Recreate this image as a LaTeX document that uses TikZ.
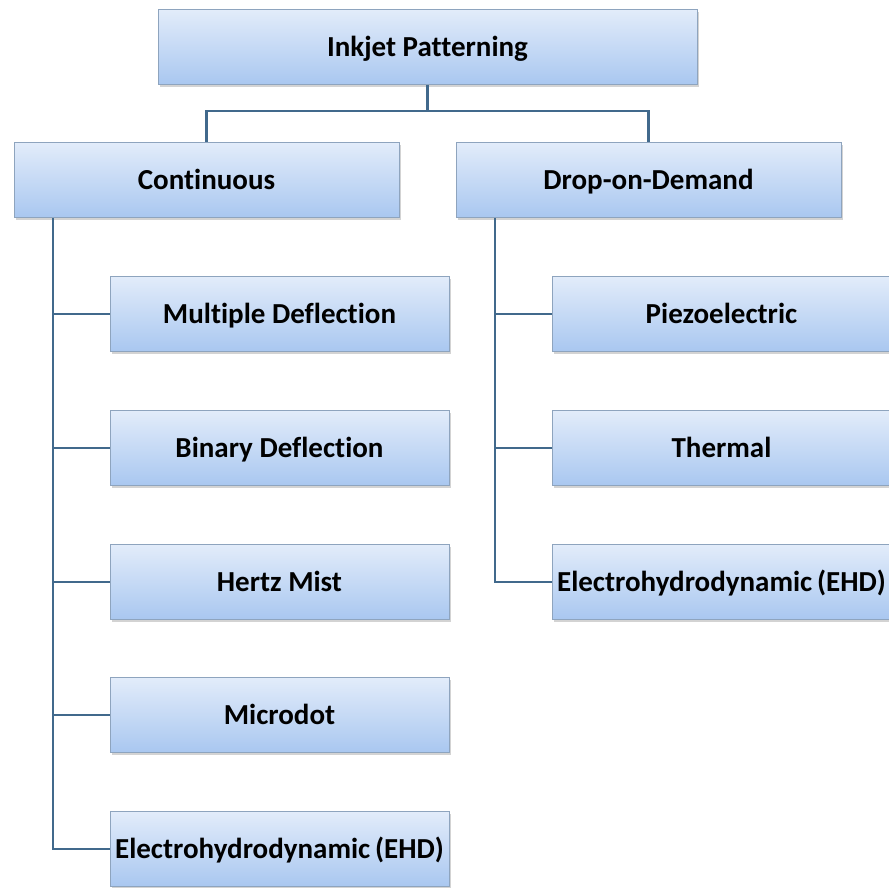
\documentclass[tikz,border=0pt]{standalone}
\usepackage{fontspec}
\setmainfont{Carlito}[Ligatures=NoCommon]
\usetikzlibrary{shadows}
\definecolor{boxtop}{HTML}{E2ECFA}
\definecolor{boxbot}{HTML}{A9C7F0}
\definecolor{boxedge}{HTML}{8EA4BE}
\definecolor{linkc}{HTML}{41698C}
\tikzset{
  box/.style={draw=boxedge, line width=0.8pt, top color=boxtop, bottom color=boxbot,
    minimum height=75pt, inner sep=0pt, text height=19pt, text depth=0pt,
    font=\bfseries\fontsize{29}{32}\selectfont,
    drop shadow={shadow xshift=2pt, shadow yshift=-2.5pt, opacity=0.35}},
  link/.style={draw=linkc, line width=2.6pt},
}
\begin{document}
\begin{tikzpicture}[x=1pt,y=-1pt]
        \useasboundingbox (0,0) rectangle (889,887);
        % top
        \node[box, minimum width=539pt] (ink) at (427.5,47) {Inkjet Patterning};
        \node[box, minimum width=385pt] (cont) at (206.5,180) {Continuous};
        \node[box, minimum width=385pt] (dod) at (648.5,180) {Drop-on-Demand};
        % continuous branch
        \node[box, minimum width=339pt] (mult) at (279.5,314) {Multiple Deflection};
        \node[box, minimum width=339pt] (bin) at (279.5,448) {Binary Deflection};
        \node[box, minimum width=339pt] (hertz) at (279.5,582) {Hertz Mist};
        \node[box, minimum width=339pt] (micro) at (279.5,715) {Microdot};
        \node[box, minimum width=339pt] (ehdl) at (279.5,849) {Electrohydrodynamic\,(EHD)};
        % drop-on-demand branch
        \node[box, minimum width=339pt] (piezo) at (721.5,314) {Piezoelectric};
        \node[box, minimum width=339pt] (therm) at (721.5,448) {Thermal};
        \node[box, minimum width=339pt] (ehdr) at (721.5,582) {Electrohydrodynamic\,(EHD)};
        \coordinate (lt) at (53,218);
        \coordinate (rt) at (495,218);
        \coordinate (fork) at (427.5,111);
        \draw[link] (ink.south) -- (fork);
        \draw[link] (fork) -| (cont.north);
        \draw[link] (fork) -| (dod.north);
        \draw[link] (lt) |- (ehdl.west);
        \foreach \n in {mult,bin,hertz,micro}
          \draw[link] (lt |- \n.west) -- (\n.west);
        \draw[link] (rt) |- (ehdr.west);
        \foreach \n in {piezo,therm}
          \draw[link] (rt |- \n.west) -- (\n.west);
\end{tikzpicture}
\end{document}
